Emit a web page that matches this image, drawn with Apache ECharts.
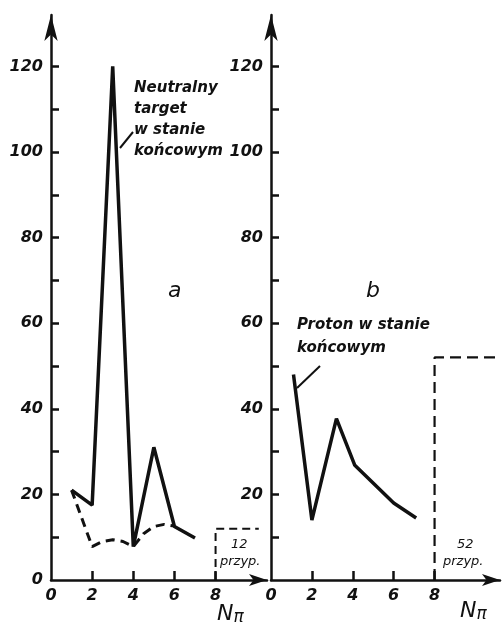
<!DOCTYPE html>
<html>
<head>
<meta charset="utf-8">
<title>N pi</title>
<script src="https://cdn.jsdelivr.net/npm/echarts@6/dist/echarts.min.js"></script>
<style>
  html, body { margin: 0; padding: 0; background: #fff; }
  #chart { width: 502px; height: 631px; }
</style>
</head>
<body>
<div id="chart"></div>
<script>
// panel a: neutral target in final state
var solidAX = [1, 2, 3, 4, 5, 6, 7];
var solidAY = [21, 17.5, 120, 7.8, 31, 12.5, 9.8];
var dashAX = [1, 2, 2.5, 3, 3.5, 4, 4.5, 5, 5.5, 6];
var dashAY = [21, 7.8, 9, 9.4, 9, 7.8, 10.8, 12.5, 13, 12.6];
var boxAX = [8, 8, 10.1];
var boxAY = [0, 12, 12];

// panel b: proton in final state
var solidBX = [1.1, 2, 3.2, 4.1, 6, 7.1];
var solidBY = [48, 14, 37.7, 26.8, 18, 14.5];
var boxBX = [8, 8, 11.2];
var boxBY = [0, 52, 52];

var xTicks = [2, 4, 6, 8];
var xLabels = [0, 2, 4, 6, 8];
var yTicks = [10, 20, 30, 40, 50, 60, 70, 80, 90, 100, 110, 120];
var yLabelsA = [0, 20, 40, 60, 80, 100, 120];
var yLabelsB = [20, 40, 60, 80, 100, 120];

function pairs(xs, ys) {
  return xs.map(function (x, i) { return [x, ys[i]]; });
}

var ink = '#111';
var font = 'DejaVu Sans';

function xAxisOf(idx, max) {
  return {
    type: 'value', gridIndex: idx, min: 0, max: max,
    axisLine: { lineStyle: { color: ink, width: 2.5 }, symbol: ['none', 'arrow'], symbolSize: [9, 18] },
    axisTick: { inside: true, length: 9, customValues: xTicks, lineStyle: { color: ink, width: 2.5 } },
    axisLabel: { customValues: xLabels, color: ink, fontSize: 16, fontStyle: 'italic', fontWeight: 'bold', fontFamily: font, margin: 8 },
    splitLine: { show: false }
  };
}
function yAxisOf(idx, labels) {
  return {
    type: 'value', gridIndex: idx, min: 0, max: 132,
    axisLine: { lineStyle: { color: ink, width: 2.5 }, symbol: ['none', 'arrow'], symbolSize: [10, 26] },
    axisTick: { inside: true, length: 8, customValues: yTicks, lineStyle: { color: ink, width: 2.5 } },
    axisLabel: { customValues: labels, color: ink, fontSize: 16, fontStyle: 'italic', fontWeight: 'bold', fontFamily: font, margin: 8 },
    splitLine: { show: false }
  };
}

function lineSeries(idx, data, type, width) {
  return {
    type: 'line', xAxisIndex: idx, yAxisIndex: idx, data: data,
    symbol: 'none', silent: true,
    lineStyle: { color: ink, width: width, type: type }
  };
}

var txt = { fill: ink, fontFamily: font, fontStyle: 'italic', fontWeight: 'bold' };
function label(x, y, text, size, extra) {
  return {
    type: 'text', left: x, top: y,
    style: Object.assign({ text: text, fontSize: size, lineHeight: size + 6 }, txt, extra || {})
  };
}
function npi(x, y) {
  return {
    type: 'text', left: x, top: y,
    style: {
      text: '{n|N}{p|π}',
      rich: {
        n: { fontSize: 22, fontStyle: 'italic', fontFamily: font, fill: ink },
        p: { fontSize: 17, fontStyle: 'italic', fontFamily: font, fill: ink, padding: [8, 0, 0, 0] }
      }
    }
  };
}

var chart = echarts.init(document.getElementById('chart'));
chart.setOption({
  backgroundColor: '#fff',
  animation: false,
  grid: [
    { left: 51, top: 15, width: 216, height: 565 },
    { left: 271, top: 15, width: 229, height: 565 }
  ],
  xAxis: [xAxisOf(0, 10.5), xAxisOf(1, 11.2)],
  yAxis: [yAxisOf(0, yLabelsA), yAxisOf(1, yLabelsB)],
  series: [
    lineSeries(0, pairs(solidAX, solidAY), 'solid', 3.5),
    lineSeries(0, pairs(dashAX, dashAY), [9, 6], 3),
    lineSeries(0, pairs(boxAX, boxAY), [8, 5], 2),
    lineSeries(1, pairs(solidBX, solidBY), 'solid', 3.5),
    lineSeries(1, pairs(boxBX, boxBY), [11, 6], 2.2)
  ],
  graphic: [
    label(134, 78, 'Neutralny\ntarget\nw stanie\nkońcowym', 15, { lineHeight: 21 }),
    { type: 'line', shape: { x1: 120, y1: 148, x2: 133, y2: 132 }, style: { stroke: ink, lineWidth: 2 } },
    label(168, 277, 'a', 22, { fontWeight: 'normal' }),
    label(366, 277, 'b', 22, { fontWeight: 'normal' }),
    label(297, 314, 'Proton w stanie\nkońcowym', 15, { lineHeight: 23 }),
    { type: 'line', shape: { x1: 297, y1: 388, x2: 320, y2: 366 }, style: { stroke: ink, lineWidth: 2 } },
    label(231, 535, '12', 13, { fontWeight: 'normal' }),
    label(220, 552, 'przyp.', 13, { fontWeight: 'normal' }),
    label(457, 535, '52', 13, { fontWeight: 'normal' }),
    label(443, 552, 'przyp.', 13, { fontWeight: 'normal' }),
    npi(217, 603),
    npi(460, 600)
  ]
});
</script>
</body>
</html>
